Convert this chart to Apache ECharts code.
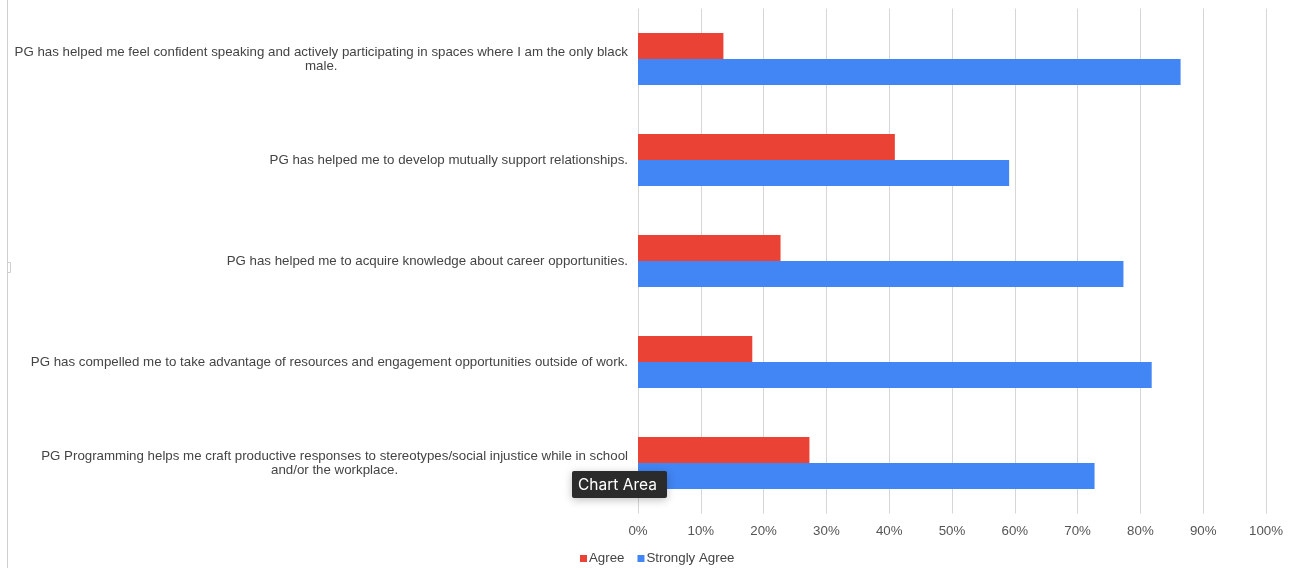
<!DOCTYPE html>
<html>
<head>
<meta charset="utf-8">
<script src="https://cdn.jsdelivr.net/npm/echarts@6/dist/echarts.min.js"></script>
<style>
  html, body { margin: 0; padding: 0; background: #fff; }
  #chart { width: 1296px; height: 568px; }
</style>
</head>
<body>
<div id="chart"></div>
<script>
var categories = [
  'PG has helped me feel confident speaking and actively participating in spaces where I am the only black male.',
  'PG has helped me to develop mutually support relationships.',
  'PG has helped me to acquire knowledge about career opportunities.',
  'PG has compelled me to take advantage of resources and engagement opportunities outside of work.',
  'PG Programming helps me craft productive responses to stereotypes/social injustice while in school and/or the workplace.'
];
var agree = [0.136, 0.409, 0.227, 0.182, 0.273];
var stronglyAgree = [0.864, 0.591, 0.773, 0.818, 0.727];

var fontFam = '"Liberation Sans", Arial, sans-serif';
var labelSize = 13.3;
var wrapWidth = 620;

// break long labels into lines (sheets style: block on the right, lines centred)
var measureCtx = document.createElement('canvas').getContext('2d');
measureCtx.font = labelSize + 'px ' + fontFam;
function wrapLabel(text) {
  var words = text.split(' ');
  var lines = [];
  var cur = '';
  words.forEach(function (w) {
    var test = cur ? cur + ' ' + w : w;
    if (cur && measureCtx.measureText(test).width > wrapWidth) {
      lines.push(cur);
      cur = w;
    } else {
      cur = test;
    }
  });
  if (cur) lines.push(cur);
  return lines.map(function (l) { return '{c|' + l + '}'; }).join('\n');
}

var myChart = echarts.init(document.getElementById('chart'));
var option = {
  animation: false,
  grid: {
    left: 638,
    right: 30,
    top: 8.5,
    height: 505
  },
  legend: {
    data: ['Agree', 'Strongly Agree'],
    left: 575,
    top: 547,
    icon: 'rect',
    itemWidth: 7,
    itemHeight: 7,
    itemGap: 13,
    textStyle: {
      color: '#444',
      fontSize: 13.3,
      fontFamily: fontFam,
      padding: [0, 0, 0, -3]
    }
  },
  xAxis: {
    type: 'value',
    min: 0,
    max: 1,
    interval: 0.1,
    axisLine: { show: false },
    axisTick: { show: false },
    splitLine: { lineStyle: { color: '#d6d6d6', width: 1 } },
    axisLabel: {
      color: '#555',
      fontSize: 13.3,
      fontFamily: fontFam,
      margin: 11,
      formatter: function (v) { return Math.round(v * 100) + '%'; }
    }
  },
  yAxis: {
    type: 'category',
    inverse: true,
    data: categories,
    axisLine: { show: false },
    axisTick: { show: false },
    axisLabel: {
      align: 'right',
      margin: 10,
      color: '#444',
      fontSize: labelSize,
      fontFamily: fontFam,
      lineHeight: 14,
      formatter: wrapLabel,
      rich: {
        c: {
          align: 'center',
          color: '#444',
          fontSize: labelSize,
          lineHeight: 14,
          fontFamily: fontFam
        }
      }
    }
  },
  series: [
    {
      name: 'Agree',
      type: 'bar',
      data: agree,
      barWidth: 26,
      barGap: '0%',
      itemStyle: { color: '#EA4335' }
    },
    {
      name: 'Strongly Agree',
      type: 'bar',
      data: stronglyAgree,
      barWidth: 26,
      itemStyle: { color: '#4285F4' }
    }
  ],
  graphic: [
    // editor frame on the left edge
    {
      type: 'line',
      silent: true,
      z: 100,
      shape: { x1: 7.5, y1: 0, x2: 7.5, y2: 568 },
      style: { stroke: '#cfcfcf', lineWidth: 1 }
    },
    {
      type: 'rect',
      silent: true,
      z: 100,
      shape: { x: 7.5, y: 262.5, width: 3, height: 10 },
      style: { fill: '#fff', stroke: '#cfcfcf', lineWidth: 1 }
    },
    // "Chart Area" hover hint
    {
      type: 'group',
      left: 572,
      top: 471,
      z: 100,
      children: [
        {
          type: 'rect',
          z: 100,
          shape: { x: 0, y: 0, width: 95, height: 27, r: 2 },
          style: {
            fill: '#2b2b2b',
            shadowBlur: 8,
            shadowColor: 'rgba(0,0,0,0.25)',
            shadowOffsetY: 2
          }
        },
        {
          type: 'text',
          z: 101,
          x: 6,
          y: 14,
          style: {
            text: 'Chart Area',
            fill: '#fff',
            fontSize: 15.5,
            fontFamily: 'Inter, "Open Sans", sans-serif',
            verticalAlign: 'middle'
          }
        }
      ]
    }
  ]
};
myChart.setOption(option, true);
</script>
</body>
</html>
